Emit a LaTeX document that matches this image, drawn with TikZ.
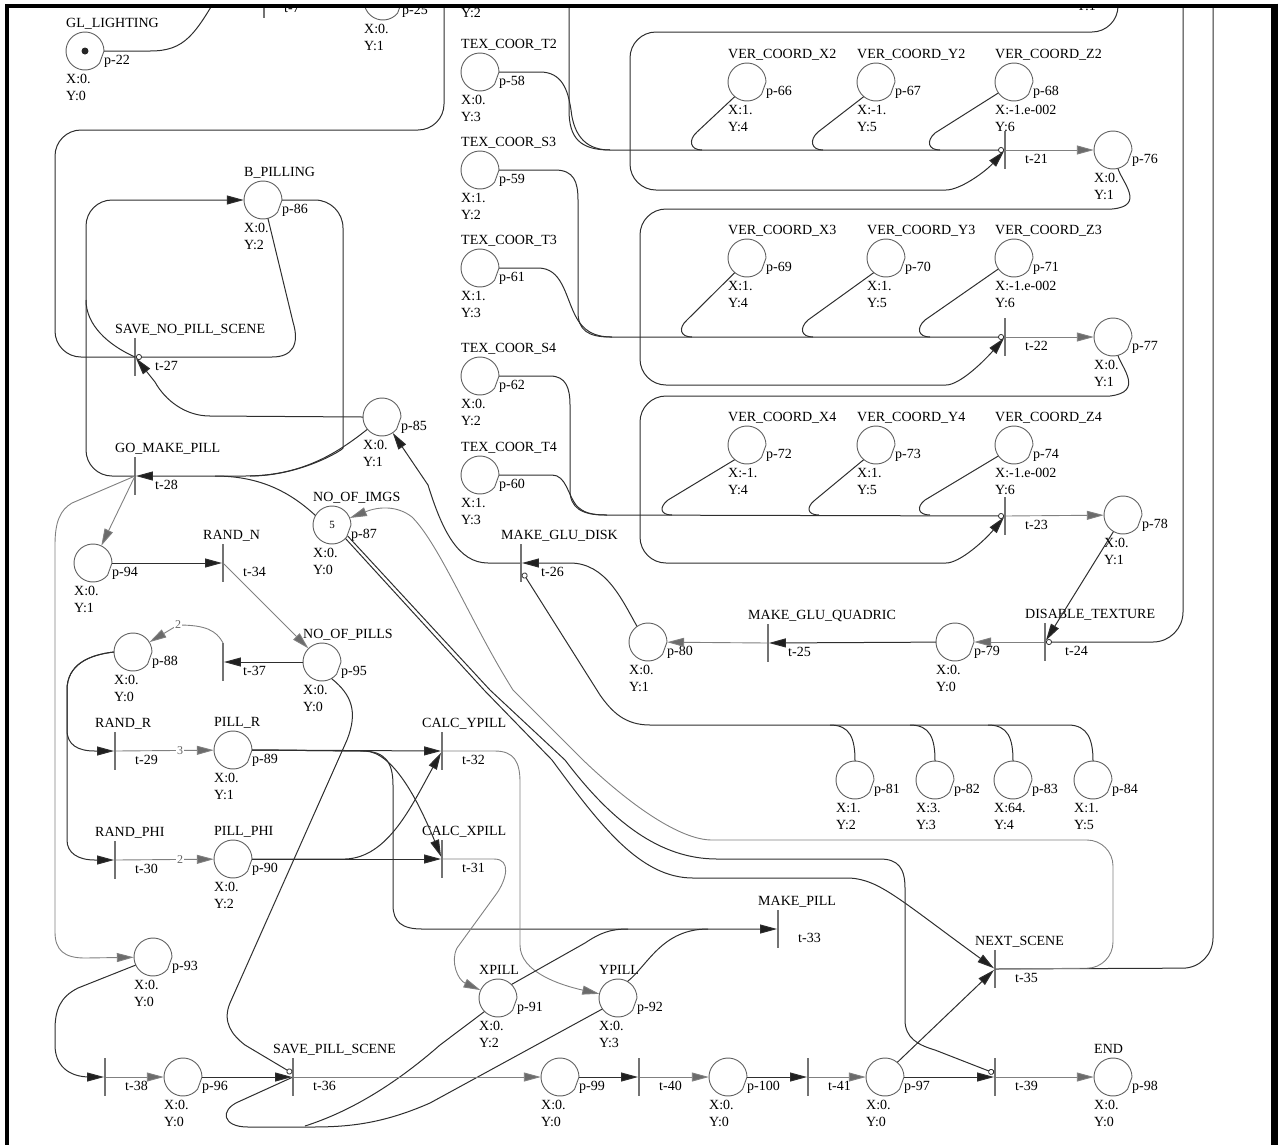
\documentclass[tikz,border=0pt]{standalone}
\usepackage{fontspec}
\setmainfont{Liberation Serif}
\usetikzlibrary{arrows.meta,calc}
\newcommand{\mkplace}[8]{%
  \node[pl] (#1) at (#2,#3) {#8};
  \draw[ring] (#2,#3) ++(40:19) arc[start angle=40,end angle=360,radius=19] -- cycle;
  \node[nlab] (#1n) at (#2-19,#3-24) {#5};
  \node[nlab] (#1p) at (#2+19,#3+13) {#4};
  \node[nlab] (#1x) at (#2-19,#3+32) {#6};
  \node[nlab] (#1y) at (#2-19,#3+49) {#7};
}
\newcommand{\mktrans}[5]{%
  \node[tr] (#1) at (#2,#3) {};
  \node[nlab] (#1t) at (#2+20,#3+13) {#4};
  \node[nlab] (#1n) at (#2-20,#3-24) {#5};
}
\begin{document}
\begin{tikzpicture}[x=1pt,y=-1pt,
  pl/.style={circle,minimum size=38pt,inner sep=0pt,draw=none,font=\fontsize{11}{11}\selectfont},
  ring/.style={draw=black!62,line width=0.9pt},
  tr/.style={rectangle,minimum width=1.5pt,minimum height=38pt,inner sep=0pt,fill=black!55,draw=none},
  nlab/.style={anchor=base west,inner sep=0pt,font=\fontsize{14}{14}\selectfont,text=black},
  ln/.style={draw=black!82,line width=1pt},
  gln/.style={draw=black!50,line width=0.9pt},
  arr/.style={-{Triangle[length=17pt,width=9pt,fill=black!88]}},
  garr/.style={-{Triangle[length=17pt,width=9pt,fill=black!58]}},
  inh/.style={-{Circle[open,length=6pt,width=6pt,line width=0.8pt]}},
  wlab/.style={fill=white,inner sep=1pt,font=\fontsize{12}{12}\selectfont,text=black!60},
]
\useasboundingbox (0,0) rectangle (1279,1144);
\begin{scope}
\clip (9,7) rectangle (1271,1144);
% ---------------- places ----------------
\mkplace{p22}{85}{51}{p-22}{GL\_LIGHTING}{X:0.}{Y:0}{}
\fill[black!85] (p22) circle[radius=3.5];
\mkplace{p25}{383}{1}{p-25}{}{X:0.}{Y:1}{}
\node[nlab] (ytop) at (461,17) {Y:2};
\node[nlab] (ytop2) at (1076,10) {Y:1};
\mkplace{p58}{480}{72}{p-58}{TEX\_COOR\_T2}{X:0.}{Y:3}{}
\mkplace{p59}{480}{170}{p-59}{TEX\_COOR\_S3}{X:1.}{Y:2}{}
\mkplace{p61}{480}{268}{p-61}{TEX\_COOR\_T3}{X:1.}{Y:3}{}
\mkplace{p62}{480}{376}{p-62}{TEX\_COOR\_S4}{X:0.}{Y:2}{}
\mkplace{p60}{480}{475}{p-60}{TEX\_COOR\_T4}{X:1.}{Y:3}{}
\mkplace{p66}{747}{82}{p-66}{VER\_COORD\_X2}{X:1.}{Y:4}{}
\mkplace{p67}{876}{82}{p-67}{VER\_COORD\_Y2}{X:-1.}{Y:5}{}
\mkplace{p68}{1014}{82}{p-68}{VER\_COORD\_Z2}{X:-1.e-002}{Y:6}{}
\mkplace{p76}{1113}{150}{p-76}{}{X:0.}{Y:1}{}
\mkplace{p69}{747}{258}{p-69}{VER\_COORD\_X3}{X:1.}{Y:4}{}
\mkplace{p70}{886}{258}{p-70}{VER\_COORD\_Y3}{X:1.}{Y:5}{}
\mkplace{p71}{1014}{258}{p-71}{VER\_COORD\_Z3}{X:-1.e-002}{Y:6}{}
\mkplace{p77}{1113}{337}{p-77}{}{X:0.}{Y:1}{}
\mkplace{p72}{747}{445}{p-72}{VER\_COORD\_X4}{X:-1.}{Y:4}{}
\mkplace{p73}{876}{445}{p-73}{VER\_COORD\_Y4}{X:1.}{Y:5}{}
\mkplace{p74}{1014}{445}{p-74}{VER\_COORD\_Z4}{X:-1.e-002}{Y:6}{}
\mkplace{p78}{1123}{515}{p-78}{}{X:0.}{Y:1}{}
\mkplace{p79}{955}{642}{p-79}{}{X:0.}{Y:0}{}
\mkplace{p80}{648}{642}{p-80}{}{X:0.}{Y:1}{}
\mkplace{p81}{855}{780}{p-81}{}{X:1.}{Y:2}{}
\mkplace{p82}{935}{780}{p-82}{}{X:3.}{Y:3}{}
\mkplace{p83}{1013}{780}{p-83}{}{X:64.}{Y:4}{}
\mkplace{p84}{1093}{780}{p-84}{}{X:1.}{Y:5}{}
\mkplace{p85}{382}{417}{p-85}{}{X:0.}{Y:1}{}
\mkplace{p86}{263}{200}{p-86}{B\_PILLING}{X:0.}{Y:2}{}
\mkplace{p87}{332}{525}{p-87}{NO\_OF\_IMGS}{X:0.}{Y:0}{5}
\mkplace{p94}{93}{563}{p-94}{}{X:0.}{Y:1}{}
\mkplace{p95}{322}{662}{p-95}{NO\_OF\_PILLS}{X:0.}{Y:0}{}
\mkplace{p88}{133}{652}{p-88}{}{X:0.}{Y:0}{}
\mkplace{p89}{233}{750}{p-89}{PILL\_R}{X:0.}{Y:1}{}
\mkplace{p90}{233}{859}{p-90}{PILL\_PHI}{X:0.}{Y:2}{}
\mkplace{p93}{153}{957}{p-93}{}{X:0.}{Y:0}{}
\mkplace{p91}{498}{998}{p-91}{XPILL}{X:0.}{Y:2}{}
\mkplace{p92}{618}{998}{p-92}{YPILL}{X:0.}{Y:3}{}
\mkplace{p96}{183}{1077}{p-96}{}{X:0.}{Y:0}{}
\mkplace{p99}{560}{1077}{p-99}{}{X:0.}{Y:0}{}
\mkplace{p100}{728}{1077}{p-100}{}{X:0.}{Y:0}{}
\mkplace{p97}{885}{1077}{p-97}{}{X:0.}{Y:0}{}
\mkplace{p98}{1113}{1077}{p-98}{END}{X:0.}{Y:0}{}
% ---------------- transitions ----------------
\mktrans{t7}{264}{-1}{t-7}{}
\mktrans{t21}{1005}{150}{t-21}{}
\mktrans{t22}{1005}{337}{t-22}{}
\mktrans{t23}{1005}{516}{t-23}{}
\mktrans{t24}{1045}{642}{t-24}{DISABLE\_TEXTURE}
\mktrans{t25}{768}{643}{t-25}{MAKE\_GLU\_QUADRIC}
\mktrans{t26}{521}{563}{t-26}{MAKE\_GLU\_DISK}
\mktrans{t27}{135}{357}{t-27}{SAVE\_NO\_PILL\_SCENE}
\mktrans{t28}{135}{476}{t-28}{GO\_MAKE\_PILL}
\mktrans{t34}{223}{563}{t-34}{RAND\_N}
\mktrans{t37}{223}{662}{t-37}{}
\mktrans{t29}{115}{751}{t-29}{RAND\_R}
\mktrans{t30}{115}{860}{t-30}{RAND\_PHI}
\mktrans{t32}{442}{751}{t-32}{CALC\_YPILL}
\mktrans{t31}{442}{859}{t-31}{CALC\_XPILL}
\mktrans{t33}{778}{929}{t-33}{MAKE\_PILL}
\mktrans{t35}{995}{969}{t-35}{NEXT\_SCENE}
\mktrans{t38}{105}{1077}{t-38}{}
\mktrans{t36}{293}{1077}{t-36}{SAVE\_PILL\_SCENE}
\mktrans{t40}{639}{1077}{t-40}{}
\mktrans{t41}{808}{1077}{t-41}{}
\mktrans{t39}{995}{1077}{t-39}{}
% ---------------- free ends at the top ----------------
\coordinate (glend) at (222,-12);
\coordinate (top444) at (444,-12);
\coordinate (top569) at (569,-12);
\coordinate (top1118) at (1118,-12);
\coordinate (top1183) at (1183,-12);
\coordinate (top1213) at (1213,-12);
% ---------------- connectors ----------------
\draw[ln] (p22.east) -- (150,51) .. controls (185,51) and (195,35) .. (glend);
\draw[ln,rounded corners=26pt] (t27.center) -- (55,357) -- (55,130) -- (444,130) -- (top444);
% group 2
\draw[ln] (top569) -- (569,110) .. controls (569,138) and (580,150) .. (610,150);
\draw[ln,inh] (p58.east) -- (540,72) .. controls (562,72) and (568,90) .. (571,110) .. controls (574,138) and (588,150) .. (610,150) -- (t21);
\draw[ln] (p66.230) -- (697,132) .. controls (688,140) and (690,150) .. (702,150);
\draw[ln] (p67.230) -- (818,132) .. controls (809,140) and (811,150) .. (823,150);
\draw[ln] (p68.215) -- (935,133) .. controls (926,141) and (928,150) .. (940,150);
\draw[ln,arr,rounded corners=26pt] (top1118) -- (1118,32) -- (630,32) -- (630,190) -- (920,190) .. controls (960,190) and (985,172) .. (t21);
\draw[gln,garr] (t21) -- (p76);
% group 3
\draw[ln,arr] (p76.285) .. controls (1122,182) and (1146,206) .. (1112,209) [rounded corners=26pt] -- (640,209) -- (640,385) -- (920,385) [sharp corners] .. controls (960,385) and (985,360) .. (t22);
\draw[ln,inh] (p59.east) -- (555,170) .. controls (574,170) and (578,182) .. (578,200) -- (578,312) .. controls (578,330) and (588,337) .. (610,337) -- (t22);
\draw[ln] (p61.east) -- (538,268) .. controls (562,268) and (565,295) .. (575,315) .. controls (583,331) and (594,337) .. (612,337);
\draw[ln] (p69.230) -- (687,320) .. controls (678,328) and (680,337) .. (692,337);
\draw[ln] (p70.230) -- (808,320) .. controls (799,328) and (801,337) .. (813,337);
\draw[ln] (p71.215) -- (925,320) .. controls (916,328) and (918,337) .. (930,337);
\draw[gln,garr] (t22) -- (p77);
% group 4
\draw[ln,arr] (p77.285) .. controls (1122,368) and (1144,392) .. (1110,396) [rounded corners=26pt] -- (640,396) -- (640,563) -- (920,563) [sharp corners] .. controls (960,563) and (985,540) .. (t23);
\draw[ln,inh] (p62.east) -- (550,376) .. controls (566,376) and (570,388) .. (570,405) -- (570,490) .. controls (570,508) and (582,515) .. (605,515) -- (t23);
\draw[ln] (p60.east) -- (552,475) .. controls (566,475) and (568,495) .. (576,505) .. controls (583,513) and (592,515) .. (607,515);
\draw[ln] (p72.230) -- (668,500) .. controls (659,507) and (660,515) .. (672,515);
\draw[ln] (p73.230) -- (815,500) .. controls (806,507) and (807,515) .. (819,515);
\draw[ln] (p74.215) -- (925,500) .. controls (916,507) and (918,515) .. (930,515);
\draw[gln,garr] (t23) -- (p78);
% disable texture / quadric / disk
\draw[ln,arr] (p78.240) -- (t24);
\draw[ln,inh,rounded corners=30pt] (top1183) -- (1183,642) -- (t24);
\draw[gln,garr] (t24) -- (p79);
\draw[ln,arr] (p79) -- (t25);
\draw[gln,garr] (t25) -- (p80);
\draw[ln,arr] (p80.125) .. controls (622,600) and (606,563) .. (570,563) -- (t26);
\draw[ln,inh] (p84.north) .. controls (1093,740) and (1088,725) .. (1068,725) -- (650,725) .. controls (625,725) and (612,712) .. (600,695) -- ($(t26)+(2,10)$);
\draw[ln] (p81.north) .. controls (855,738) and (850,725) .. (830,725);
\draw[ln] (p82.north) .. controls (935,738) and (930,725) .. (910,725);
\draw[ln] (p83.north) .. controls (1013,738) and (1008,725) .. (988,725);
\draw[ln,arr] (t26) -- (488,563) .. controls (458,563) and (442,530) .. (428,485) -- (p85);
% B_PILLING area
\draw[ln,arr] (p85.west) -- (210,416) .. controls (185,416) and (165,400) .. (155,382) -- (t27);
\draw[ln,inh] (p86.285) -- (293,322) .. controls (300,345) and (292,357) .. (272,357) -- (t27);
\draw[ln] (t27.center) .. controls (108,345) and (86,325) .. (86,300);
\draw[ln,arr,rounded corners=26pt] (t28.center) -- (86,476) -- (86,200) -- (p86);
\draw[ln,rounded corners=28pt] (p86.east) -- (343,200) -- (343,420) .. controls (343,450) and (300,476) .. (250,476);
\draw[ln,arr] (p85.220) .. controls (335,455) and (300,476) .. (245,476) -- (t28);
\draw[ln] (p87.150) .. controls (290,492) and (260,476) .. (215,476);
\draw[gln,garr] (t28) -- (p94);
\draw[gln,garr] (t28.center) -- (72,503) .. controls (60,510) and (55,522) .. (55,545) -- (55,932) .. controls (55,950) and (64,958) .. (85,958) -- (p93);
% pills
\draw[ln,arr] (p94.east) -- (t34);
\draw[gln,garr] (t34) -- (p95);
\draw[ln,arr] (p95) -- (t37);
\draw[gln,garr] (t37.north) .. controls (216,630) and (205,625) .. (178,625) -- (p88);
\node[wlab] (w1) at (178,625) {2};
\draw[ln,arr] (p88.west) .. controls (88,655) and (67,665) .. (67,690) -- (67,730) .. controls (67,745) and (78,751) .. (95,751) -- (t29);
\draw[ln,arr] (p88.west) .. controls (88,655) and (67,665) .. (67,690) -- (67,840) .. controls (67,853) and (78,860) .. (95,860) -- (t30);
\draw[gln,garr] (t29) -- (p89);
\node[wlab] (w2) at (180,751) {3};
\draw[gln,garr] (t30) -- (p90);
\node[wlab] (w3) at (180,860) {2};
\draw[ln,arr] (p89.east) -- (t32);
\draw[ln,arr] (p90.east) -- (t31);
\draw[ln,arr] (p89.east) -- (365,751) .. controls (393,752) and (418,800) .. (t31);
\draw[ln,arr] (p90.east) -- (345,859) .. controls (388,858) and (412,805) .. (t32);
\draw[ln,arr] (p89.east) -- (362,751) .. controls (385,751) and (393,762) .. (393,785) -- (393,905) .. controls (393,922) and (402,929) .. (422,929) -- (t33);
\draw[gln,garr] (t32.center) -- (495,751) .. controls (514,751) and (520,762) .. (520,782) -- (520,945) .. controls (520,972) and (560,985) .. (p92);
\draw[gln,garr] (t31.center) -- (494,859) .. controls (512,859) and (506,880) .. (497,893) -- (457,948) .. controls (450,962) and (458,980) .. (p91);
\draw[ln] (p91.45) -- (585,943) .. controls (600,933) and (610,929) .. (628,929);
\draw[ln] (p92.60) .. controls (648,965) and (662,929) .. (708,929);
% bottom
\draw[ln,arr] (p93.205) -- (78,988) .. controls (60,997) and (55,1010) .. (55,1030) -- (55,1045) .. controls (55,1065) and (68,1077) .. (90,1077) -- (t38);
\draw[gln,garr] (t38) -- (p96);
\draw[ln,arr] (p96) -- (t36);
\draw[ln,inh] (p95.300) .. controls (352,695) and (358,712) .. (347,740) -- (230,1003) .. controls (222,1022) and (232,1035) .. (245,1045) -- ($(t36)+(-1,-4)$);
\draw[ln] (p92.215) -- (430,1103) .. controls (380,1125) and (345,1127) .. (310,1127) -- (248,1127) .. controls (222,1127) and (220,1110) .. (238,1102) -- (t36);
\draw[ln] (p91.225) -- (440,1045) .. controls (400,1080) and (355,1110) .. (305,1126);
\draw[gln,garr] (t36) -- (p99);
\draw[ln,arr] (p99) -- (t40);
\draw[gln,garr] (t40) -- (p100);
\draw[ln,arr] (p100) -- (t41);
\draw[gln,garr] (t41) -- (p97);
\draw[ln,arr] (p97) -- (t39);
\draw[gln,garr] (t39) -- (p98);
\draw[ln,arr] (p97.50) -- (t35);
\draw[ln,rounded corners=30pt] (t35.center) -- (1213,968) -- (top1213);
\draw[gln,garr] (t35.center) [rounded corners=26pt] -- (1113,968) -- (1113,840) -- (738,840) [sharp corners] .. controls (680,840) and (630,805) .. (583,760) -- (513,690) .. controls (472,625) and (440,545) .. (412,517) .. controls (398,506) and (380,506) .. (p87);
\draw[ln,arr] (p87.-45) -- (484,690) -- (552,760) .. controls (600,825) and (640,878) .. (693,878) -- (850,878) .. controls (880,880) and (900,900) .. (t35);
\draw[ln,inh] (p87.-35) -- (490,690) -- (565,760) .. controls (612,822) and (660,859) .. (717,859) -- (880,859) .. controls (898,859) and (905,868) .. (905,888) -- (905,1020) .. controls (905,1038) and (918,1045) .. (935,1050) -- ($(t39)+(-1,-4)$);
\end{scope}
% frame
\draw[line width=4pt] (7,1150) -- (7,5.5) -- (1276,5.5);
\draw[line width=7pt] (1274.5,3.5) -- (1274.5,1150);
\end{tikzpicture}
\end{document}
